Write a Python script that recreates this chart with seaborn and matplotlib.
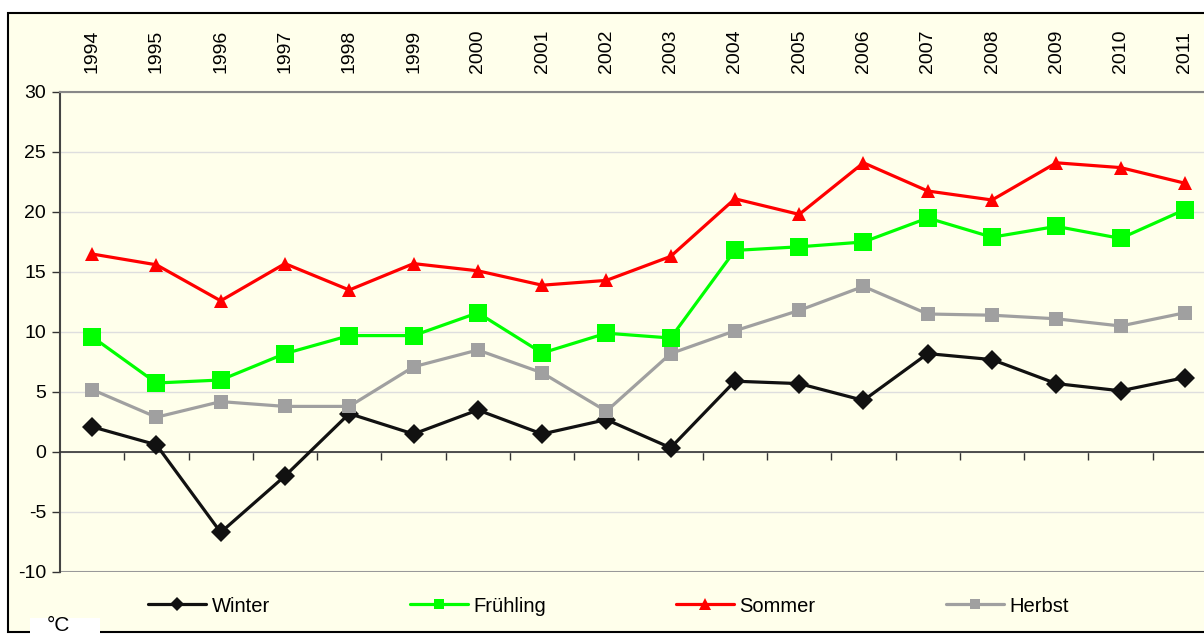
import numpy as np
import pandas as pd
import seaborn as sns
import matplotlib.pyplot as plt
from matplotlib.lines import Line2D
from matplotlib.patches import Rectangle
from matplotlib.ticker import MultipleLocator

# data
years = list(range(1994, 2012))
winter = [2.1, 0.6, -6.7, -2.0, 3.2, 1.5, 3.5, 1.5, 2.7, 0.35, 5.9, 5.7, 4.3, 8.2, 7.7, 5.7, 5.1, 6.2]
fruehling = [9.6, 5.75, 6.0, 8.2, 9.7, 9.7, 11.6, 8.25, 9.9, 9.5, 16.8, 17.1, 17.5, 19.5, 17.9, 18.8, 17.8, 20.2]
sommer = [16.5, 15.6, 12.6, 15.7, 13.5, 15.7, 15.1, 13.9, 14.3, 16.3, 21.1, 19.8, 24.1, 21.75, 21.0, 24.1, 23.7, 22.4]
herbst = [5.2, 2.9, 4.2, 3.8, 3.8, 7.1, 8.5, 6.6, 3.4, 8.2, 10.1, 11.8, 13.8, 11.5, 11.4, 11.1, 10.5, 11.6]

series_names = ["Winter", "Frühling", "Sommer", "Herbst"]
colors = ["#111111", "#00FF00", "#FF0000", "#A0A0A0"]
markers = ["D", "s", "^", "s"]
marker_sizes = [10.5, 13.5, 10, 10]
legend_msizes = [7, 7.5, 9, 7.5]
legend_x = [148, 410, 676, 946]

df = pd.DataFrame({"Jahr": years, "Winter": winter, "Frühling": fruehling,
                   "Sommer": sommer, "Herbst": herbst})

sns.set_style("white")
plt.rcParams['font.family'] = ['Liberation Sans', 'DejaVu Sans']
plt.rcParams['text.color'] = 'black'
plt.rcParams['xtick.color'] = 'black'
plt.rcParams['ytick.color'] = 'black'
plt.rcParams['axes.unicode_minus'] = False

bg = "#FFFFEB"
W, H = 1204, 634
fig = plt.figure(figsize=(W / 100, H / 100), dpi=100, facecolor="white")

# outer chart frame (behind the axes)
fig.patches.append(Rectangle((8 / W, 2 / H), 1.2, (632 - 13) / H, transform=fig.transFigure,
                             facecolor=bg, edgecolor="black", linewidth=1.5, zorder=-5))

ax = fig.add_axes([60 / W, 62 / H, 1157 / W, 480 / H])
ax.set_facecolor(bg)

for name, col, mk, ms in zip(series_names, colors, markers, marker_sizes):
    sns.lineplot(data=df, x="Jahr", y=name, ax=ax, color=col, marker=mk, markersize=ms,
                 linewidth=2.3, markeredgewidth=0, legend=False, zorder=3)

ax.set_xlim(1993.5, 2011.5)
ax.set_ylim(-10, 30)
ax.yaxis.set_major_locator(MultipleLocator(5))
ax.grid(axis="y", color="#DEDEDE", linewidth=1)
ax.set_axisbelow(True)

# year labels on top, category ticks on the zero line
ax.set_xticks(years)
ax.set_xticklabels([str(y) for y in years])
ax.set_xticks(np.arange(1994.5, 2011.5, 1), minor=True)
ax.tick_params(axis="x", which="major", top=False, bottom=False, labeltop=True,
               labelbottom=False, labelsize=14, pad=10, labelrotation=90)
ax.tick_params(axis="x", which="minor", bottom=True, length=6, width=1, color="#333333",
               direction="out")
ax.tick_params(axis="y", left=True, length=6, width=1, color="#333333", labelsize=14, pad=4)

ax.spines["bottom"].set_position(("data", 0))
ax.spines["bottom"].set_color("#333333")
ax.spines["bottom"].set_linewidth(1.2)
ax.spines["left"].set_color("#444444")
ax.spines["left"].set_linewidth(1.5)
ax.spines["top"].set_color("#888888")
ax.spines["top"].set_linewidth(1.5)
ax.spines["right"].set_visible(False)
ax.axhline(-10, color="#999999", linewidth=1.5, zorder=2)
ax.set_xlabel("")
ax.set_ylabel("")

# legend, one entry per block
for name, col, mk, lms, lx in zip(series_names, colors, markers, legend_msizes, legend_x):
    h = Line2D([], [], color=col, marker=mk, markersize=lms, linewidth=2.3, markeredgewidth=0)
    fig.legend([h], [name], loc="center left", bbox_to_anchor=(lx / W, (H - 606) / H),
               frameon=False, fontsize=14.5, handlelength=2.9, handletextpad=0.25,
               borderpad=0, borderaxespad=0)

# unit label box
fig.patches.append(Rectangle((30 / W, 0), 70 / W, 16 / H, transform=fig.transFigure,
                             facecolor="white", edgecolor="none", zorder=5))
fig.text(47 / W, 18 / H, "°C", fontsize=15, va="top", ha="left", zorder=6)

fig.savefig("out.png", dpi=100, facecolor="white")
